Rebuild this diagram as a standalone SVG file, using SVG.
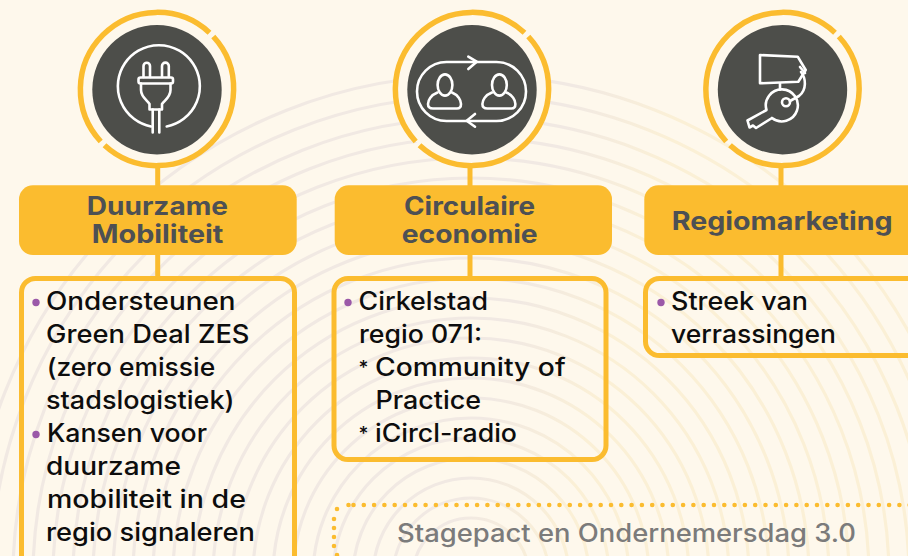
<svg xmlns="http://www.w3.org/2000/svg" width="908" height="556" viewBox="0 0 908 556">
<style>
.ring{fill:none;stroke:#fbbc2f;stroke-width:5.5}
.dark{fill:#4d4e4a}
.ico{fill:none;stroke:#fff;stroke-width:2.6;stroke-linecap:round;stroke-linejoin:round}
.hd{fill:#fbbc2f}
.box{fill:none;stroke:#fbbc2f;stroke-width:5}
.ln{stroke:#fbbc2f;stroke-width:5;fill:none}
.ht{font-family:Inter,"Liberation Sans",sans-serif;font-weight:700;font-size:25px;fill:#4d5054}
.bt{font-family:Inter,"Liberation Sans",sans-serif;font-weight:500;font-size:25px;fill:#0d0d0d}
.ast{font-family:Inter,"Liberation Sans",sans-serif;font-weight:500;font-size:19px;fill:#0d0d0d}
.bul{fill:#9b59a8}
.arc{fill:none;stroke:url(#g);stroke-width:3.2}
.dots{fill:none;stroke:#fbbc2f;stroke-width:4.6;stroke-linecap:round}
</style>
<defs>
<linearGradient id="g" gradientUnits="userSpaceOnUse" x1="520" y1="290" x2="620" y2="317">
<stop offset="0" stop-color="#f1e9e3"/><stop offset="1" stop-color="#fbf0d6"/>
</linearGradient>
<g id="badge">
<circle r="77" fill="#fef8ec"/>
<path class="ring" d="M56.3 -52.5A77 77 0 0 1 -52.5 56.3M-56.3 52.5A77 77 0 0 1 52.5 -56.3"/>
<circle class="dark" r="64.7" cy="0.7"/>
</g>
<g id="person">
<ellipse cx="445" cy="85" rx="7.4" ry="10.6"/>
<path d="M437.5 92.5C431 95 428 100 428 104C428 107 430 108.500 433 108.500H457C460 108.500 461 107 461 104C461 100 458 95 452 92.500"/>
</g>
</defs>
<rect width="908" height="556" fill="#fef8ec"/>
<g id="background">
<circle class="arc" cx="471" cy="576" r="58"/>
<circle class="arc" cx="471" cy="576" r="78"/>
<circle class="arc" cx="471" cy="576" r="98"/>
<circle class="arc" cx="471" cy="576" r="118"/>
<circle class="arc" cx="471" cy="576" r="138"/>
<circle class="arc" cx="471" cy="576" r="158"/>
<circle class="arc" cx="471" cy="576" r="178"/>
<circle class="arc" cx="471" cy="576" r="198"/>
<circle class="arc" cx="471" cy="576" r="218"/>
<circle class="arc" cx="471" cy="576" r="238"/>
<circle class="arc" cx="471" cy="576" r="258"/>
<circle class="arc" cx="471" cy="576" r="278"/>
<circle class="arc" cx="471" cy="576" r="298"/>
<circle class="arc" cx="471" cy="576" r="318"/>
<circle class="arc" cx="471" cy="576" r="338"/>
<circle class="arc" cx="471" cy="576" r="358"/>
<circle class="arc" cx="471" cy="576" r="378"/>
<circle class="arc" cx="471" cy="576" r="398"/>
<circle class="arc" cx="471" cy="576" r="418"/>
<circle class="arc" cx="471" cy="576" r="438"/>
<circle class="arc" cx="471" cy="576" r="458"/>
<circle class="arc" cx="471" cy="576" r="480"/>
<circle class="arc" cx="471" cy="576" r="501"/>
</g>
<g id="node-mobiliteit-icon" transform="translate(157 89)"><use href="#badge"/></g>
<g id="plug" class="ico">
<path d="M166.700 126.500A41 41 0 1 0 151 126.500"/>
<path d="M143.500 77V66A3.200 3.200 0 0 1 150 66V77M162 77V66A3.200 3.200 0 0 1 168.800 66V77"/>
<rect x="138.500" y="77.500" width="34.500" height="6" rx="2"/>
<path d="M141 83.500V90C141 97 147 100 149.500 104V109.500H162V104C165 100 170.500 97 170.500 90V83.500"/>
<path d="M152.700 109.500V132.500M159.300 109.500V132.500"/>
</g>
<g id="node-economie-icon" transform="translate(472 89)"><use href="#badge"/></g>
<g id="people" class="ico">
<rect x="417" y="62" width="109" height="59" rx="29.500"/>
<path d="M468.300 56.700L476.700 61.700L468.300 69M475 114L466.700 120.700L475 126.700"/>
<use href="#person"/>
<use href="#person" x="54.400"/>
</g>
<g id="node-regio-icon" transform="translate(782.500 89)"><use href="#badge"/></g>
<g id="key" class="ico">
<path d="M760 55L797.700 56.700L805.700 70L798.300 81.700L760 83.300Z"/>
<path d="M800 67L805 73M780 83.500V89.500"/>
<path d="M801 72C806 78 807 90 799 96L790 101"/>
<circle cx="786" cy="102.300" r="4"/>
<path d="M772 118A16 16 0 1 0 766.500 110L747.500 120.500L749.500 127.500L753 125.500L756 128L772 118"/>
</g>
<g id="connectors">
<path class="ln" d="M157.700 167V186M157.700 254V277M470 167V186M470 254V277M781 167V186M781 254V277"/>
</g>
<g id="node-mobiliteit">
<rect class="hd" x="19" y="185.300" width="277.700" height="69.700" rx="14"/>
<text class="ht" x="86.700" y="215" textLength="141.300" lengthAdjust="spacingAndGlyphs">Duurzame</text>
<text class="ht" x="91.700" y="242.700" textLength="131.700" lengthAdjust="spacingAndGlyphs">Mobiliteit</text>
<rect class="box" x="21.500" y="278.500" width="273" height="292" rx="14"/>
<circle class="bul" cx="36" cy="302.500" r="3.700"/>
<circle class="bul" cx="36" cy="434.500" r="3.700"/>
<text class="bt" x="46" y="310" textLength="189.500" lengthAdjust="spacingAndGlyphs">Ondersteunen</text>
<text class="bt" x="46" y="343" textLength="203.500" lengthAdjust="spacingAndGlyphs">Green Deal ZES</text>
<text class="bt" x="46.700" y="376" textLength="168.500" lengthAdjust="spacingAndGlyphs">(zero emissie</text>
<text class="bt" x="46" y="409" textLength="188.500" lengthAdjust="spacingAndGlyphs">stadslogistiek)</text>
<text class="bt" x="47" y="442" textLength="160" lengthAdjust="spacingAndGlyphs">Kansen voor</text>
<text class="bt" x="46" y="475" textLength="135" lengthAdjust="spacingAndGlyphs">duurzame</text>
<text class="bt" x="47" y="508" textLength="199" lengthAdjust="spacingAndGlyphs">mobiliteit in de</text>
<text class="bt" x="46" y="541" textLength="209" lengthAdjust="spacingAndGlyphs">regio signaleren</text>
</g>
<g id="node-economie">
<rect class="hd" x="334.700" y="185.300" width="277.300" height="69.700" rx="14"/>
<text class="ht" x="404" y="215" textLength="131" lengthAdjust="spacingAndGlyphs">Circulaire</text>
<text class="ht" x="401.700" y="242.700" textLength="136" lengthAdjust="spacingAndGlyphs">economie</text>
<rect class="box" x="334" y="278.500" width="272" height="181" rx="14"/>
<circle class="bul" cx="348" cy="302.500" r="3.700"/>
<text class="bt" x="358.600" y="310" textLength="129.400" lengthAdjust="spacingAndGlyphs">Cirkelstad</text>
<text class="bt" x="359" y="343" textLength="123" lengthAdjust="spacingAndGlyphs">regio 071:</text>
<text class="ast" x="358.600" y="374">*</text>
<text class="bt" x="375" y="376" textLength="190.600" lengthAdjust="spacingAndGlyphs">Community of</text>
<text class="bt" x="375.500" y="409" textLength="105.500" lengthAdjust="spacingAndGlyphs">Practice</text>
<text class="ast" x="358.600" y="440">*</text>
<text class="bt" x="375" y="442" textLength="142" lengthAdjust="spacingAndGlyphs">iCircl-radio</text>
</g>
<g id="node-regio">
<rect class="hd" x="644.300" y="185.300" width="290" height="69.700" rx="14"/>
<text class="ht" x="671.700" y="230" textLength="221" lengthAdjust="spacingAndGlyphs">Regiomarketing</text>
<rect class="box" x="645.500" y="278.500" width="290" height="77" rx="14"/>
<circle class="bul" cx="661" cy="302.500" r="3.700"/>
<text class="bt" x="671" y="310" textLength="137" lengthAdjust="spacingAndGlyphs">Streek van</text>
<text class="bt" x="671" y="343" textLength="165" lengthAdjust="spacingAndGlyphs">verrassingen</text>
</g>
<g id="node-stagepact">
<path class="dots" stroke-dasharray="0 10.300" d="M353.500 505H915"/>
<path class="dots" d="M348.500 505h0M337 509h0M334 519h0M334 528h0M334 537h0M334 546h0M337 555h0"/>
<text x="397" y="542" textLength="459" lengthAdjust="spacingAndGlyphs" style="font-family:Inter,'Liberation Sans',sans-serif;font-weight:500;font-size:25px;fill:#7b7b7b">Stagepact en Ondernemersdag 3.0</text>
</g>
</svg>
